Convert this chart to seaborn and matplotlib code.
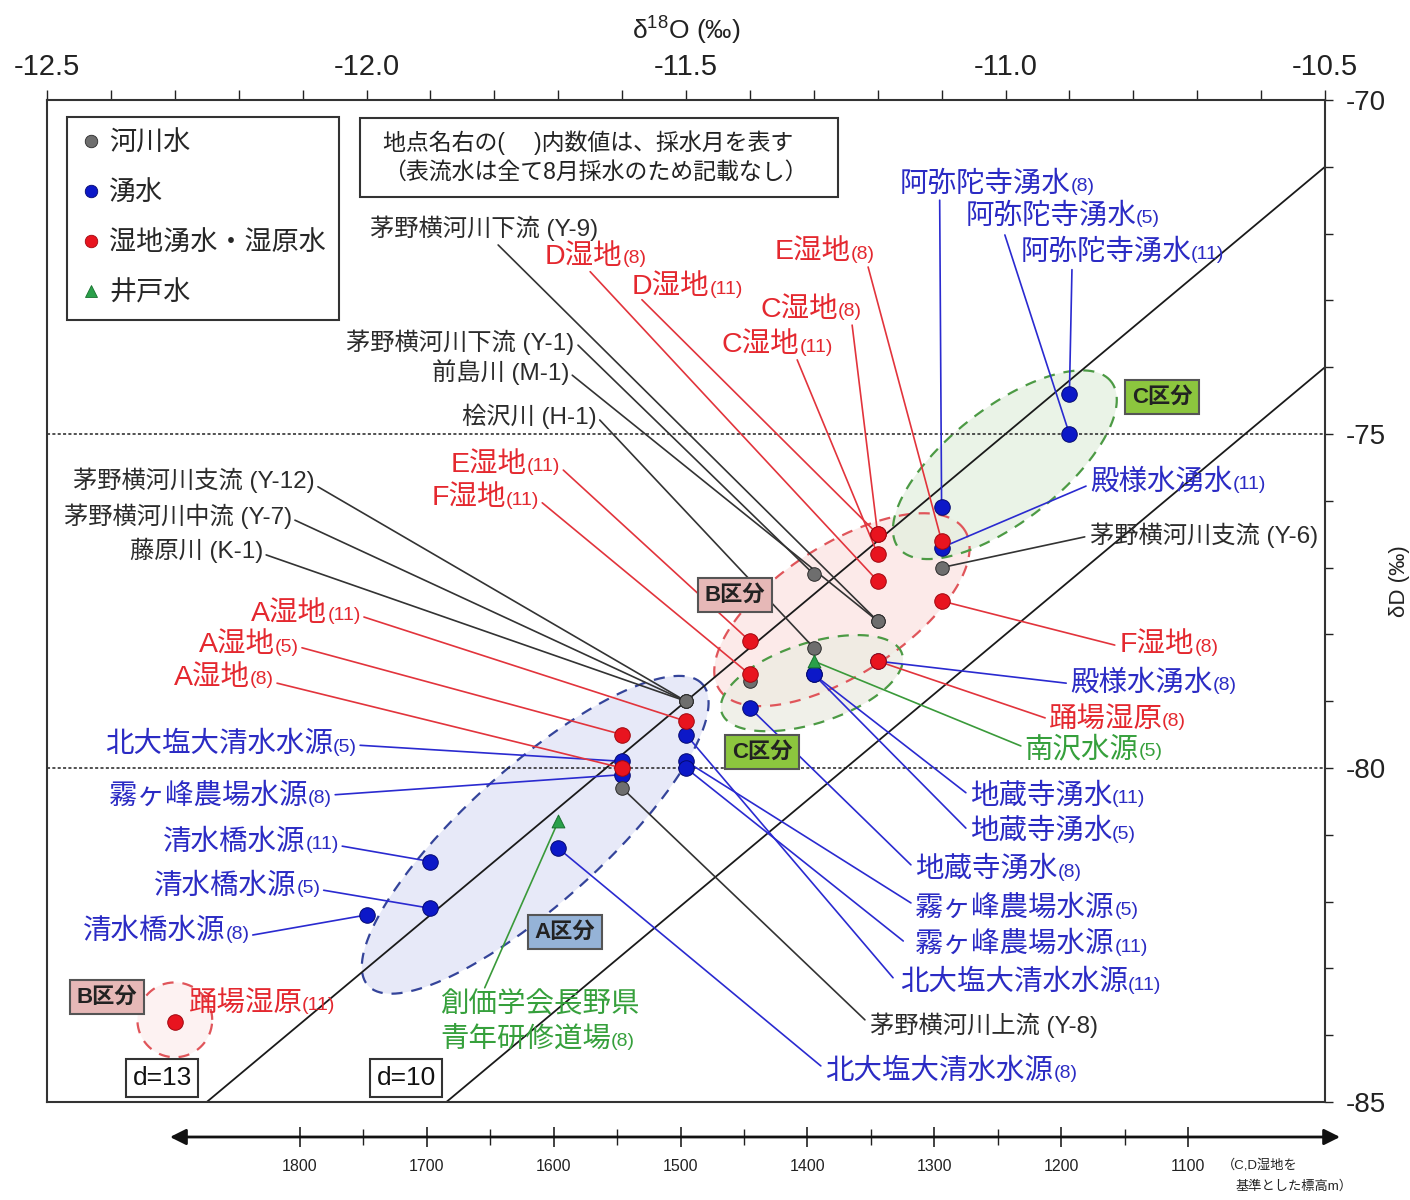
import numpy as np
import pandas as pd
import matplotlib
matplotlib.use('Agg')
import matplotlib.pyplot as plt
import seaborn as sns
from matplotlib.lines import Line2D
from matplotlib.patches import Rectangle

sns.set_theme(style='ticks')
plt.rcParams['font.family'] = ['Liberation Sans', 'Noto Sans CJK JP', 'DejaVu Sans']
plt.rcParams['mathtext.fontset'] = 'custom'
plt.rcParams['mathtext.rm'] = 'Liberation Sans'
plt.rcParams['axes.unicode_minus'] = False

# ---------------- data ----------------
RIVER, SPRING, WET, WELL = '河川水', '湧水', '湿地湧水・湿原水', '井戸水'

site = ['茅野横河川下流 (Y-9)', '茅野横河川下流 (Y-1)', '前島川 (M-1)', '桧沢川 (H-1)',
        '茅野横河川支流 (Y-12)', '茅野横河川中流 (Y-7)', '藤原川 (K-1)', '茅野横河川支流 (Y-6)',
        '茅野横河川上流 (Y-8)', '',
        '阿弥陀寺湧水', '阿弥陀寺湧水', '阿弥陀寺湧水', '殿様水湧水', '殿様水湧水',
        '地蔵寺湧水', '地蔵寺湧水', '地蔵寺湧水', '霧ヶ峰農場水源', '霧ヶ峰農場水源', '霧ヶ峰農場水源',
        '北大塩大清水水源', '北大塩大清水水源', '北大塩大清水水源', '清水橋水源', '清水橋水源', '清水橋水源',
        'D湿地', 'D湿地', 'E湿地', 'E湿地', 'C湿地', 'C湿地', 'F湿地', 'F湿地',
        'A湿地', 'A湿地', 'A湿地', '踊場湿原', '踊場湿原',
        '南沢水源', '創価学会長野県\n青年研修道場']
month = [None] * 10 + [8, 5, 11, 11, 8, 11, 5, 8, 5, 11, 8, 11, 5, 8, 11, 5, 8,
                       8, 11, 8, 11, 8, 11, 11, 8, 11, 5, 8, 8, 11,
                       5, 8]
kind = [RIVER] * 10 + [SPRING] * 17 + [WET] * 13 + [WELL] * 2
d18O = [-11.2, -11.3, -11.2, -11.3, -11.5, -11.5, -11.5, -11.1, -11.6, -11.4,
        -11.1, -10.9, -10.9, -11.1, -11.2, -11.3, -11.3, -11.4, -11.5, -11.5, -11.6,
        -11.5, -11.6, -11.7, -11.9, -11.9, -12.0,
        -11.2, -11.2, -11.1, -11.4, -11.2, -11.2, -11.4, -11.1,
        -11.5, -11.6, -11.6, -11.2, -12.3,
        -11.3, -11.7]
dD = [-77.8, -77.1, -77.8, -78.2, -79.0, -79.0, -79.0, -77.0, -80.3, -78.7,
      -76.1, -75.0, -74.4, -76.7, -78.4, -78.6, -78.6, -79.1, -79.9, -80.0, -80.1,
      -79.5, -79.9, -81.2, -81.4, -82.1, -82.2,
      -77.2, -76.5, -76.6, -78.1, -76.5, -76.8, -78.6, -77.5,
      -79.3, -79.5, -80.0, -78.4, -83.8,
      -78.4, -80.8]

d_excess = [13, 10]
x_ticks = [-12.5, -12.0, -11.5, -11.0, -10.5]
y_ticks = [-70, -75, -80, -85]
elev_major = [1800, 1700, 1600, 1500, 1400, 1300, 1200, 1100]
elev_minor = [1750, 1650, 1550, 1450, 1350, 1250, 1150]

df = pd.DataFrame({'site': site, 'month': month, 'kind': kind, 'd18O': d18O, 'dD': dD})

# ---------------- layout (label positions, not data) ----------------
# index: (text x, text y, anchor, connector start x, connector start y)
label_layout = {
    0: (-11.995, -71.92, 'left', -11.794, -72.17),
    1: (-11.675, -73.62, 'right', -11.669, -73.67),
    2: (-11.683, -74.07, 'right', -11.678, -74.12),
    3: (-11.640, -74.73, 'right', -11.635, -74.79),
    4: (-12.081, -75.70, 'right', -12.076, -75.79),
    5: (-12.117, -76.23, 'right', -12.112, -76.29),
    6: (-12.162, -76.74, 'right', -12.157, -76.81),
    7: (-10.868, -76.51, 'left', -10.876, -76.54),
    8: (-11.212, -83.85, 'left', -11.220, -83.77),
    10: (-11.165, -71.27, 'left', -11.103, -71.50),
    11: (-11.063, -71.75, 'left', -11.001, -72.02),
    12: (-10.977, -72.28, 'left', -10.896, -72.54),
    13: (-10.868, -75.73, 'left', -10.874, -75.78),
    14: (-10.899, -78.73, 'left', -10.905, -78.73),
    15: (-11.056, -80.43, 'left', -11.062, -80.37),
    16: (-11.056, -80.96, 'left', -11.062, -80.90),
    17: (-11.142, -81.53, 'left', -11.148, -81.45),
    18: (-11.142, -82.10, 'left', -11.148, -82.02),
    19: (-11.142, -82.65, 'left', -11.160, -82.59),
    20: (-12.054, -80.43, 'right', -12.049, -80.40),
    21: (-11.165, -83.22, 'left', -11.176, -83.14),
    22: (-12.015, -79.66, 'right', -12.010, -79.66),
    23: (-11.282, -84.55, 'left', -11.289, -84.46),
    24: (-12.043, -81.12, 'right', -12.038, -81.17),
    25: (-12.072, -81.78, 'right', -12.067, -81.83),
    26: (-12.183, -82.46, 'right', -12.178, -82.50),
    27: (-11.721, -72.35, 'left', -11.650, -72.57),
    28: (-11.585, -72.80, 'left', -11.569, -72.99),
    29: (-11.361, -72.28, 'left', -11.215, -72.50),
    30: (-11.697, -75.46, 'right', -11.692, -75.54),
    31: (-11.384, -73.14, 'left', -11.240, -73.37),
    32: (-11.444, -73.67, 'left', -11.326, -73.89),
    33: (-11.730, -75.96, 'right', -11.725, -76.03),
    34: (-10.821, -78.16, 'left', -10.829, -78.16),
    35: (-12.009, -77.69, 'right', -12.004, -77.74),
    36: (-12.106, -78.16, 'right', -12.101, -78.20),
    37: (-12.145, -78.65, 'right', -12.140, -78.73),
    38: (-10.934, -79.28, 'left', -10.938, -79.25),
    39: (-12.279, -83.53, 'left', None, None),
    40: (-10.970, -79.73, 'left', -10.976, -79.67),
    41: (-11.885, -84.07, 'left', -11.815, -83.29),
}

colors = {RIVER: '#6e6e6e', SPRING: '#0c18c8', WET: '#e8141f', WELL: '#2aa04a'}
edge_colors = {RIVER: '#2a2a2a', SPRING: '#050a70', WET: '#a00810', WELL: '#17702e'}
text_colors = {RIVER: '#2b2b2b', SPRING: '#2b2bc4', WET: '#e4282f', WELL: '#36a03c'}
line_colors = {RIVER: '#333333', SPRING: '#2a2ad0', WET: '#e2343c', WELL: '#3a9a3a'}
marker_map = {RIVER: 'o', SPRING: 'o', WET: 'o', WELL: '^'}
size_map = {RIVER: 95, SPRING: 125, WET: 125, WELL: 85}

# ---------------- figure ----------------
W, H = 1410, 1200
fig = plt.figure(figsize=(W / 100, H / 100), dpi=100)
L, R, T, B = 47, 1325, 100, 1102
ax = fig.add_axes([L / W, 1 - B / H, (R - L) / W, (B - T) / H])
ax.set_xlim(-12.5, -10.5)
ax.set_ylim(-85, -70)
K = ((R - L) / 2.0) / ((B - T) / 15.0)   # px per unit x / px per unit y


def ellipse_xy(cx, cy, a, b, ang):
    t = np.linspace(0, 2 * np.pi, 300)
    u, v = a * np.cos(t), b * np.sin(t)
    r = np.deg2rad(ang)
    du = u * np.cos(r) - v * np.sin(r)
    dv = u * np.sin(r) + v * np.cos(r)
    return cx + du / K, cy + dv


# group ellipses (center, semi-axes in δD units, angle, fill, edge)
ellipses = [
    ((-11.736, -81.00), 3.37, 1.02, 42, '#dfe2f6', '#34449a'),
    ((-11.256, -77.63), 2.19, 0.97, 33, '#fbe3e2', '#e0555a'),
    ((-11.001, -75.46), 2.02, 0.85, 38, '#e3f0df', '#4c9a44'),
    ((-11.303, -78.73), 1.42, 0.60, 18, '#ecece2', '#4c9a44'),
    ((-12.300, -83.77), 0.56, 0.56, 0, '#fdeeee', '#e0555a'),
]
for (cx, cy), a, b, ang, fc, ec in ellipses:
    ex, ey = ellipse_xy(cx, cy, a, b, ang)
    ax.fill(ex, ey, color=fc, alpha=0.75, zorder=1, lw=0)
for (cx, cy), a, b, ang, fc, ec in ellipses:
    ex, ey = ellipse_xy(cx, cy, a, b, ang)
    ax.plot(ex, ey, color=ec, lw=1.6, ls=(0, (5, 4)), zorder=2)

# reference lines
for yv in [-75, -80]:
    ax.axhline(yv, color='#222222', lw=1.1, ls=(0, (2, 1.5)), zorder=2.5)
xs = np.array([-12.5, -10.5])
for d in d_excess:
    ax.plot(xs, 8 * xs + d, color='#1a1a1a', lw=1.3, zorder=2.5)

# connector lines
for i, (tx, ty, anc, lx, ly) in label_layout.items():
    if lx is None:
        continue
    ax.plot([lx, d18O[i]], [ly, dD[i]], color=line_colors[kind[i]], lw=1.2, zorder=3)

# points
for k in [SPRING, RIVER, WET, WELL]:
    sub = df[df['kind'] == k]
    sns.scatterplot(data=sub, x='d18O', y='dD', ax=ax, color=colors[k], marker=marker_map[k],
                    s=size_map[k], edgecolor=edge_colors[k], linewidth=0.7, zorder=5, legend=False)

# axes styling
ax.xaxis.tick_top()
ax.xaxis.set_label_position('top')
ax.yaxis.tick_right()
ax.yaxis.set_label_position('right')
ax.set_xticks(x_ticks)
ax.set_xticklabels([f'{v:.1f}' for v in x_ticks])
ax.set_xticks(np.arange(-12.5, -10.45, 0.1), minor=True)
ax.set_yticks(y_ticks)
ax.set_yticklabels([str(v) for v in y_ticks])
ax.set_yticks(np.arange(-85, -69, 1), minor=True)
ax.tick_params(axis='x', which='both', direction='out', length=7, width=1, colors='#222222',
               top=True, bottom=False, labeltop=True, labelbottom=False, pad=7, labelsize=21)
ax.tick_params(axis='y', which='both', direction='out', length=6, width=1, colors='#222222',
               right=True, left=False, labelright=True, labelleft=False, pad=9, labelsize=20)
ax.set_xlabel(r'δ$^{18}$O (‰)', fontsize=19, labelpad=10, color='#222222')
ax.set_ylabel('δD (‰)', fontsize=16, rotation=90, color='#222222')
ax.yaxis.set_label_coords(1.050, 0.52)
for s in ax.spines.values():
    s.set_color('#333333')
    s.set_linewidth(1.5)
    s.set_visible(True)
ax.set_facecolor('white')

# labels
renderer = fig.canvas.get_renderer()
inv = ax.transData.inverted()


def place_label(tx, ty, anchor, name, suffix, color, size, ssize):
    lines = name.split('\n')
    step = 0.52
    for j, line in enumerate(lines):
        y = ty + (len(lines) - 1 - j) * step
        last = j == len(lines) - 1
        t1 = ax.text(tx, y, line, ha='left', va='center', fontsize=size, color=color, zorder=6)
        w1 = t1.get_window_extent(renderer).width
        t2, w2 = None, 0
        if last and suffix:
            t2 = ax.text(tx, y, suffix, ha='left', va='center', fontsize=ssize, color=color, zorder=6)
            w2 = t2.get_window_extent(renderer).width
        X, Y = ax.transData.transform((tx, y))
        left = X if anchor == 'left' else X - w1 - w2
        t1.set_position(inv.transform((left, Y)))
        if t2 is not None:
            t2.set_position(inv.transform((left + w1, Y - 2)))


for i, (tx, ty, anc, lx, ly) in label_layout.items():
    k = kind[i]
    if k == RIVER:
        place_label(tx, ty, anc, site[i], None, text_colors[k], 17.5, 13)
    else:
        place_label(tx, ty, anc, site[i], f'({month[i]})', text_colors[k], 20.5, 14)

# region boxes
boxes = [
    ('C区分', -10.755, -74.45, '#8cc63e'),
    ('B区分', -11.423, -77.41, '#e6b8b7'),
    ('C区分', -11.381, -79.76, '#8cc63e'),
    ('A区分', -11.689, -82.46, '#95b3d7'),
    ('B区分', -12.406, -83.43, '#e6b8b7'),
]
for txt, bx, by, fc in boxes:
    ax.text(bx, by, txt, ha='center', va='center', fontsize=16, fontweight='bold', color='#222222',
            zorder=7, bbox=dict(boxstyle='square,pad=0.3', fc=fc, ec='#555555', lw=1.5))
for txt, bx, by in [('d=13', -12.32, -84.64), ('d=10', -11.938, -84.64)]:
    ax.text(bx, by, txt, ha='center', va='center', fontsize=19, color='#111111', zorder=7,
            bbox=dict(boxstyle='square,pad=0.25', fc='white', ec='#333333', lw=1.5))

# legend
handles = [Line2D([], [], ls='', marker=marker_map[k], markersize=9, markerfacecolor=colors[k],
                  markeredgecolor=edge_colors[k], markeredgewidth=0.6) for k in [RIVER, SPRING, WET, WELL]]
leg = ax.legend(handles, [RIVER, SPRING, WET, WELL], loc='upper left',
                bbox_to_anchor=((67 - L) / (R - L), (B - 117) / (B - T)), borderaxespad=0,
                fontsize=19.5, labelspacing=0.88, borderpad=0.5, handletextpad=0.25,
                handlelength=0.8, frameon=True, fancybox=False, framealpha=1,
                edgecolor='#333333')
leg.get_frame().set_linewidth(1.5)
leg.set_zorder(8)

# note box
ax.add_patch(Rectangle(((360 - L) / (R - L), (B - 197) / (B - T)), (838 - 360) / (R - L), (197 - 118) / (B - T),
                       transform=ax.transAxes, fc='white', ec='#333333', lw=1.5, zorder=7))
ax.text((383 - L) / (R - L), (B - 157) / (B - T),
        '地点名右の(　 )内数値は、採水月を表す\n（表流水は全て8月採水のため記載なし）',
        transform=ax.transAxes, ha='left', va='center', fontsize=16.5, linespacing=1.3,
        color='#222222', zorder=8)

# elevation axis below
ax2 = fig.add_axes([L / W, 1 - 1137 / H, (R - L) / W, 0.0001])
ax2.set_xlim(ax.get_xlim())
ax2.set_ylim(0, 1)
for s in ax2.spines.values():
    s.set_visible(False)
ax2.set_yticks([])
ax2.patch.set_alpha(0)


def elev_to_d18O(e):
    return -12.1041 + (1800 - np.asarray(e, dtype=float)) * 0.0019853


ax2.set_xticks(elev_to_d18O(elev_major))
ax2.set_xticklabels([str(e) for e in elev_major])
ax2.set_xticks(elev_to_d18O(elev_minor), minor=True)
ax2.tick_params(axis='x', which='major', direction='inout', length=15, width=1.2, colors='#222222',
                bottom=True, top=False, pad=8, labelsize=11.5)
ax2.tick_params(axis='x', which='minor', direction='inout', length=11, width=1.0, colors='#222222',
                bottom=True, top=False)
ax2.annotate('', xy=(-10.4765, 0), xytext=(-12.3075, 0), xycoords='data', annotation_clip=False,
             arrowprops=dict(arrowstyle='<|-|>', color='#111111', lw=2, mutation_scale=24,
                             shrinkA=0, shrinkB=0))
fig.text(1222 / W, 1 - 1165 / H, '（C,D湿地を', fontsize=9.5, ha='left', va='center', color='#222222')
fig.text(1236 / W, 1 - 1186 / H, '基準とした標高m）', fontsize=9.5, ha='left', va='center', color='#222222')

fig.savefig('out.png', dpi=100, facecolor='white')
